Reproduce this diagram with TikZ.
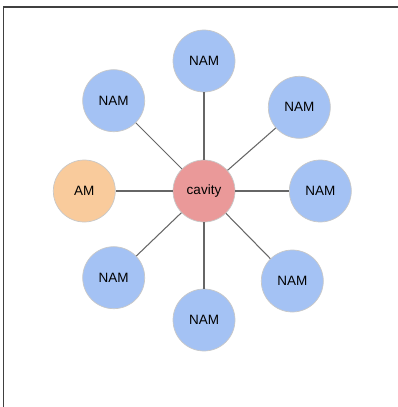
\documentclass[tikz,border=0pt]{standalone}
\usepackage{fontspec}
\setmainfont{Liberation Sans}
\def\width{398}
\def\hauteur{407}
\definecolor{namblue}{HTML}{A4C2F4}
\definecolor{amorange}{HTML}{F9CB9C}
\definecolor{cavred}{HTML}{EA9999}
\definecolor{ringgray}{HTML}{C8C8C8}
\definecolor{linkgray}{HTML}{666666}

\begin{document}
\begin{tikzpicture}[x=0.025cm, y=-0.025cm,
  disc/.style={circle, draw=ringgray, line width=0.5pt, minimum size=62*0.025cm, inner sep=0pt, font=\fontsize{9.6}{11}\selectfont},
  nam/.style={disc, fill=namblue},
  link/.style={draw=linkgray, line width=0.75pt}]
\useasboundingbox (0,0) rectangle (\width,\hauteur);
% frame
\draw[line width=0.8pt, black!75] (3.5,\hauteur) -- (3.5,7) -- (\width,7);
% nodes
\node[disc, fill=cavred] (cavity) at (204,191) {cavity};
\node[disc, fill=amorange] (am) at (84.3,191) {AM};
\node[nam] (nTop) at (204,61) {NAM};
\node[nam] (nUpLeft) at (113.7,100.7) {NAM};
\node[nam] (nUpRight) at (299.3,107.3) {NAM};
\node[nam] (nRight) at (320.3,191) {NAM};
\node[nam] (nLowLeft) at (113.7,277.7) {NAM};
\node[nam] (nBottom) at (204,320) {NAM};
\node[nam] (nLowRight) at (292.3,281) {NAM};
% links
\foreach \n in {am,nTop,nUpLeft,nUpRight,nRight,nLowLeft,nBottom,nLowRight}
  \draw[link] (cavity) -- (\n);
\end{tikzpicture}
\end{document}
